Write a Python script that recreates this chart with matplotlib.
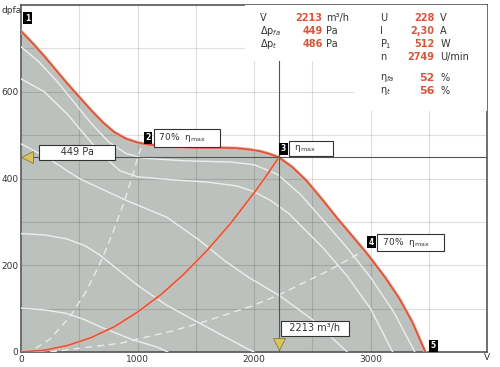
import matplotlib
matplotlib.use('Agg')
import matplotlib.pyplot as plt
import numpy as np

# max. fan curve (red)
max_x = [0, 100, 200, 300, 400, 500, 600, 700, 800, 900, 1000, 1100, 1200, 1350, 1500, 1700, 1850, 1960, 2050, 2130, 2213,
         2330, 2450, 2590, 2730, 2860, 2990, 3130, 3250, 3360, 3470]
max_y = [740, 712, 682, 650, 618, 588, 558, 530, 507, 492, 483, 478, 476, 473, 471, 471, 470, 467, 463, 457, 449,
         426, 395, 350, 303, 262, 220, 170, 122, 68, 0]

# lower speed curves (white)
spd_a_x = [0, 150, 300, 450, 600, 750, 900, 1050, 1400, 1800, 2000, 2200, 2400, 2600, 2800, 3000, 3200, 3380]
spd_a_y = [704, 670, 627, 578, 528, 485, 458, 447, 441, 438, 432, 410, 363, 302, 240, 172, 92, 0]
spd_b_x = [0, 200, 400, 550, 700, 850, 1000, 1300, 1600, 1850, 2000, 2150, 2300, 2600, 2800, 3000, 3190]
spd_b_y = [630, 600, 548, 500, 453, 418, 404, 397, 392, 383, 370, 348, 319, 238, 175, 100, 0]
spd_c_x = [0, 220, 500, 900, 1250, 1530, 1750, 1960, 2213, 2500, 2800]
spd_c_y = [480, 449, 400, 350, 311, 258, 210, 171, 131, 75, 0]
spd_d_x = [0, 200, 390, 550, 680, 850, 1020, 1250, 1480, 1750, 1960, 2000]
spd_d_y = [273, 270, 261, 245, 223, 186, 150, 108, 74, 35, 5, 0]
spd_e_x = [0, 200, 390, 550, 680, 820, 960, 1160, 1260]
spd_e_y = [101, 97, 89, 74, 58, 43, 28, 12, 0]

# 70% eta_max lines (dashed)
eff_l_x = [30, 105, 250, 420, 560, 680, 780, 890, 960, 1020, 1040]
eff_l_y = [0, 5, 30, 81, 140, 205, 270, 349, 410, 464, 475]
eff_r_x = [250, 400, 850, 1100, 1280, 1530, 1960, 2210, 2650, 2900, 2950]
eff_r_y = [0, 5, 20, 36, 47, 66, 104, 131, 189, 227, 235]

# system curve (red)
sys_x = [0, 200, 400, 600, 800, 1000, 1200, 1400, 1600, 1800, 2000, 2100, 2213]
sys_y = [0, 4, 15, 33, 58, 92, 132, 180, 235, 297, 367, 404, 449]

op_q = 2213
op_p = 449

info_left = [('V̇', '2213', 'm³/h'), ('Δp$_{fa}$', '449', 'Pa'), ('Δp$_{t}$', '486', 'Pa')]
info_right = [('U', '228', 'V'), ('I', '2,30', 'A'), ('P$_1$', '512', 'W'), ('n', '2749', 'U/min')]
info_eta = [('η$_{fa}$', '52', '%'), ('η$_{t}$', '56', '%')]

red = '#d4583c'
fill = '#bdc1be'
txt = '#333333'

fig = plt.figure(figsize=(5, 3.67), dpi=100)
ax = fig.add_axes([0.042, 0.041, 0.932, 0.945])
ax.set_xlim(0, 4000)
ax.set_ylim(0, 800)

ax.fill_between(max_x, max_y, 0, color=fill, lw=0, zorder=1)

for gx in np.arange(500, 4000, 500):
    ax.axvline(gx, color='black', alpha=0.13, lw=0.8, zorder=2)
for gy in np.arange(100, 800, 100):
    ax.axhline(gy, color='black', alpha=0.13, lw=0.8, zorder=2)

# white info panel
ax.fill_between([1920, 4000], 671, 800, color='white', lw=0, zorder=3)
ax.fill_between([2860, 4000], 556, 800, color='white', lw=0, zorder=3)

for xs, ys in [(spd_a_x, spd_a_y), (spd_b_x, spd_b_y), (spd_c_x, spd_c_y),
               (spd_d_x, spd_d_y), (spd_e_x, spd_e_y)]:
    ax.plot(xs, ys, color='#eeeeee', lw=1.0, zorder=4)
for xs, ys in [(eff_l_x, eff_l_y), (eff_r_x, eff_r_y)]:
    ax.plot(xs, ys, color='#eaeaea', lw=1.0, ls=(0, (5, 3.5)), zorder=4)

ax.plot(sys_x, sys_y, color='#f0b0a0', lw=2.2, zorder=5)
ax.plot(sys_x, sys_y, color=red, lw=1.1, zorder=5)
ax.plot(max_x, max_y, color='#f0b0a0', lw=2.4, zorder=5)
ax.plot(max_x, max_y, color=red, lw=1.3, zorder=5)

# operating point lines
ax.axhline(op_p, color='#555555', lw=0.8, zorder=6)
ax.plot([op_q, op_q], [0, 671], color='#555555', lw=0.8, zorder=6)

box = dict(boxstyle='square,pad=0.25', fc='white', ec='#333333', lw=0.8)
blk = dict(boxstyle='square,pad=0.2', fc='black', ec='black', lw=0)

ax.text(55, 770, '1', color='white', fontsize=5.5, fontweight='bold', ha='center', va='center', bbox=blk, zorder=8)
ax.text(1090, 494, '2', color='white', fontsize=5.5, fontweight='bold', ha='center', va='center', bbox=blk, zorder=8)
ax.text(1160, 494, ' 70%  η$_{\\rm max}$     ', color=txt, fontsize=6.5, ha='left', va='center', bbox=box, zorder=7)
ax.text(2254, 469, '3', color='white', fontsize=5.5, fontweight='bold', ha='center', va='center', bbox=blk, zorder=8)
ax.text(2324, 469, ' η$_{\\rm max}$      ', color=txt, fontsize=6.5, ha='left', va='center', bbox=box, zorder=7)
ax.text(3009, 253, '4', color='white', fontsize=5.5, fontweight='bold', ha='center', va='center', bbox=blk, zorder=8)
ax.text(3079, 253, ' 70%  η$_{\\rm max}$     ', color=txt, fontsize=6.5, ha='left', va='center', bbox=box, zorder=7)
ax.text(3540, 14, '5', color='white', fontsize=5.5, fontweight='bold', ha='center', va='center', bbox=blk, zorder=8)

ax.text(480, 461, '      449 Pa      ', color=txt, fontsize=7, ha='center', va='center', bbox=box, zorder=7)
ax.text(2525, 55, '  2213 m³/h  ', color=txt, fontsize=7, ha='center', va='center', bbox=box, zorder=7)
ax.plot([55], [op_p], marker='<', ms=8, color='#d9c560', mec='#8a7a30', mew=0.6, zorder=9)
ax.plot([op_q], [18], marker='v', ms=8, color='#d9c560', mec='#8a7a30', mew=0.6, zorder=9)

# info panel text
for i, (lab, val, unit) in enumerate(info_left):
    y = 770 - i * 30
    ax.text(2050, y, lab, color=txt, fontsize=7, va='center', zorder=8)
    ax.text(2590, y, val, color=red, fontsize=7, fontweight='bold', ha='right', va='center', zorder=8)
    ax.text(2620, y, unit, color=txt, fontsize=7, va='center', zorder=8)
for i, (lab, val, unit) in enumerate(info_right):
    y = 770 - i * 30
    ax.text(3080, y, lab, color=txt, fontsize=7, va='center', zorder=8)
    ax.text(3550, y, val, color=red, fontsize=7, fontweight='bold', ha='right', va='center', zorder=8)
    ax.text(3600, y, unit, color=txt, fontsize=7, va='center', zorder=8)
for i, (lab, val, unit) in enumerate(info_eta):
    y = 632 - i * 30
    ax.text(3080, y, lab, color=txt, fontsize=7, va='center', zorder=8)
    ax.text(3550, y, val, color=red, fontsize=8, fontweight='bold', ha='right', va='center', zorder=8)
    ax.text(3600, y, unit, color=txt, fontsize=7, va='center', zorder=8)

ax.set_xticks([0, 1000, 2000, 3000])
ax.set_yticks([0, 200, 400, 600])
ax.tick_params(length=0, labelsize=6.5, labelcolor=txt, pad=2)
for s in ax.spines.values():
    s.set_color('#555555')
    s.set_linewidth(1.2)
fig.text(0.004, 0.972, 'dpfa', fontsize=6.5, color=txt, va='center')
fig.text(0.968, 0.027, 'V', fontsize=6.5, color=txt, va='center')

fig.savefig('out.png', dpi=100)
